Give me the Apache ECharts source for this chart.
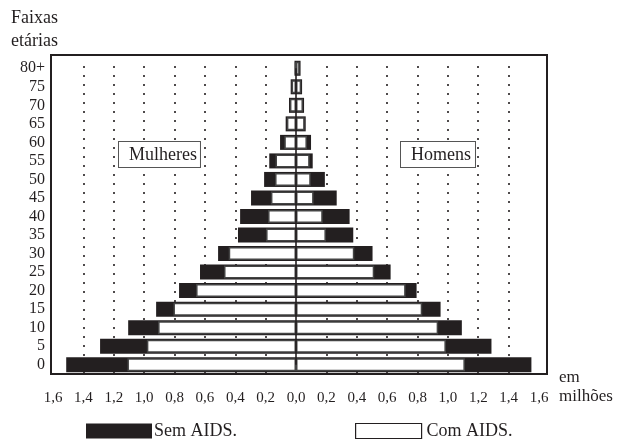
<!DOCTYPE html>
<html>
<head>
<meta charset="utf-8">
<script src="https://cdn.jsdelivr.net/npm/echarts@6/dist/echarts.min.js"></script>
<style>
html,body{margin:0;padding:0;background:#ffffff;}
#chart{width:621px;height:439px;}
</style>
</head>
<body>
<div id="chart"></div>
<script>
// ---- data (millions) ----
const ageGroups = ['0','5','10','15','20','25','30','35','40','45','50','55','60','65','70','75','80+'];
const womenSemAids = [1.513, 1.29, 1.105, 0.921, 0.770, 0.632, 0.513, 0.382, 0.368, 0.296, 0.21, 0.176, 0.105, 0.068, 0.046, 0.035, 0.010];
const womenComAids = [1.110, 0.982, 0.908, 0.807, 0.658, 0.474, 0.443, 0.197, 0.184, 0.165, 0.138, 0.135, 0.077, 0.060, 0.040, 0.029, 0.006];
const menSemAids   = [1.550, 1.287, 1.092, 0.952, 0.794, 0.623, 0.504, 0.377, 0.353, 0.268, 0.19, 0.11, 0.099, 0.064, 0.053, 0.040, 0.030];
const menComAids   = [1.112, 0.987, 0.936, 0.831, 0.722, 0.515, 0.384, 0.197, 0.176, 0.116, 0.097, 0.090, 0.072, 0.057, 0.046, 0.034, 0.024];
const gridTicks = [-1.4,-1.2,-1.0,-0.8,-0.6,-0.4,-0.2,0.2,0.4,0.6,0.8,1.0,1.2,1.4];
const xMin = -1.6, xMax = 1.6, xStep = 0.2;

const INK = '#231f20';
const FONT = "'Liberation Serif','Times New Roman','DejaVu Serif',serif";

const chart = echarts.init(document.getElementById('chart'), null, {renderer:'canvas'});

const neg = arr => arr.map(v => -v);

const option = {
  backgroundColor: '#ffffff',
  animation: false,
  title: {
    text: 'Faixas\netárias',
    left: 11, top: 7, padding: 0,
    textStyle: {fontFamily: FONT, fontSize: 18, fontWeight: 'normal', color: INK, lineHeight: 23}
  },
  legend: [
    {
      data: ['Sem AIDS.'], left: 86, top: 422, padding: 0,
      itemWidth: 66, itemHeight: 15, icon: 'rect', selectedMode: false,
      itemStyle: {color: INK, borderWidth: 0},
      textStyle: {fontFamily: FONT, fontSize: 18, color: INK, padding: [0,0,0,-3]}
    },
    {
      data: ['Com AIDS.'], left: 355, top: 422, padding: 0,
      itemWidth: 66, itemHeight: 15, icon: 'rect', selectedMode: false,
      itemStyle: {color: '#ffffff', borderColor: INK, borderWidth: 1.2},
      textStyle: {fontFamily: FONT, fontSize: 18, color: INK}
    }
  ],
  grid: [
    {left: 51, right: 74, top: 55, bottom: 65, show: true, borderColor: INK, borderWidth: 2, backgroundColor: 'transparent'},
    {left: 53, right: 82, top: 59, bottom: 65}
  ],
  xAxis: [
    {
      gridIndex: 1, type: 'value', min: xMin, max: xMax, interval: xStep,
      axisLine: {show: false}, axisTick: {show: false}, splitLine: {show: false},
      axisLabel: {
        margin: 17, fontFamily: FONT, fontSize: 15, color: INK,
        formatter: v => Math.abs(v).toFixed(1).replace('.', ',')
      }
    },
    {gridIndex: 0, type: 'value', show: false, min: 0, max: 1}
  ],
  yAxis: [
    {
      gridIndex: 1, type: 'category', data: ageGroups,
      axisLine: {show: false, onZero: false}, axisTick: {show: false}, splitLine: {show: false},
      axisLabel: {interval: 0, margin: 8, fontFamily: FONT, fontSize: 16, color: INK}
    },
    {
      gridIndex: 1, type: 'category', data: ageGroups, show: false,
      axisLine: {onZero: false}
    },
    {gridIndex: 0, type: 'value', show: false, min: 0, max: 1}
  ],
  graphic: [
    {
      type: 'text', left: 118, top: 141, z: 10,
      style: {text: 'Mulheres', font: "18px 'Liberation Serif'", fill: INK,
        backgroundColor: '#ffffff', borderColor: '#555555', borderWidth: 1, padding: [4,3,3,10]}
    },
    {
      type: 'text', left: 400, top: 141, z: 10,
      style: {text: 'Homens', font: "18px 'Liberation Serif'", fill: INK,
        backgroundColor: '#ffffff', borderColor: '#555555', borderWidth: 1, padding: [4,4,3,10]}
    },
    {
      type: 'text', left: 559, top: 368, z: 10,
      style: {text: 'em\nmilhões', font: "17px 'Liberation Serif'", fill: INK, lineHeight: 19}
    }
  ],
  series: [
    {
      name: 'Sem AIDS.', type: 'bar', xAxisIndex: 0, yAxisIndex: 0,
      data: neg(womenSemAids), barWidth: 15, barGap: '-100%',
      itemStyle: {color: INK},
      markLine: {
        silent: true, symbol: 'none', z: 1, label: {show: false},
        lineStyle: {color: INK, type: [2, 7], width: 1.6},
        data: gridTicks.map(t => ({xAxis: t}))
      }
    },
    {
      name: 'Sem AIDS.', type: 'bar', xAxisIndex: 0, yAxisIndex: 0,
      data: menSemAids, barWidth: 15, barGap: '-100%',
      itemStyle: {color: INK}
    },
    {
      name: 'Com AIDS.', type: 'bar', xAxisIndex: 0, yAxisIndex: 1,
      data: neg(womenComAids), barWidth: 13, barGap: '-100%',
      itemStyle: {color: '#ffffff', borderColor: '#444444', borderWidth: 1.5}
    },
    {
      name: 'Com AIDS.', type: 'bar', xAxisIndex: 0, yAxisIndex: 1,
      data: menComAids, barWidth: 13, barGap: '-100%',
      itemStyle: {color: '#ffffff', borderColor: '#444444', borderWidth: 1.5},
      markLine: {
        silent: true, symbol: 'none', z: 6, label: {show: false},
        lineStyle: {color: INK, type: 'solid', width: 1.6},
        data: [[{coord: [0, ageGroups[0]]}, {coord: [0, ageGroups[ageGroups.length - 1]]}]]
      }
    }
  ]
};
chart.setOption(option);
</script>
</body>
</html>
